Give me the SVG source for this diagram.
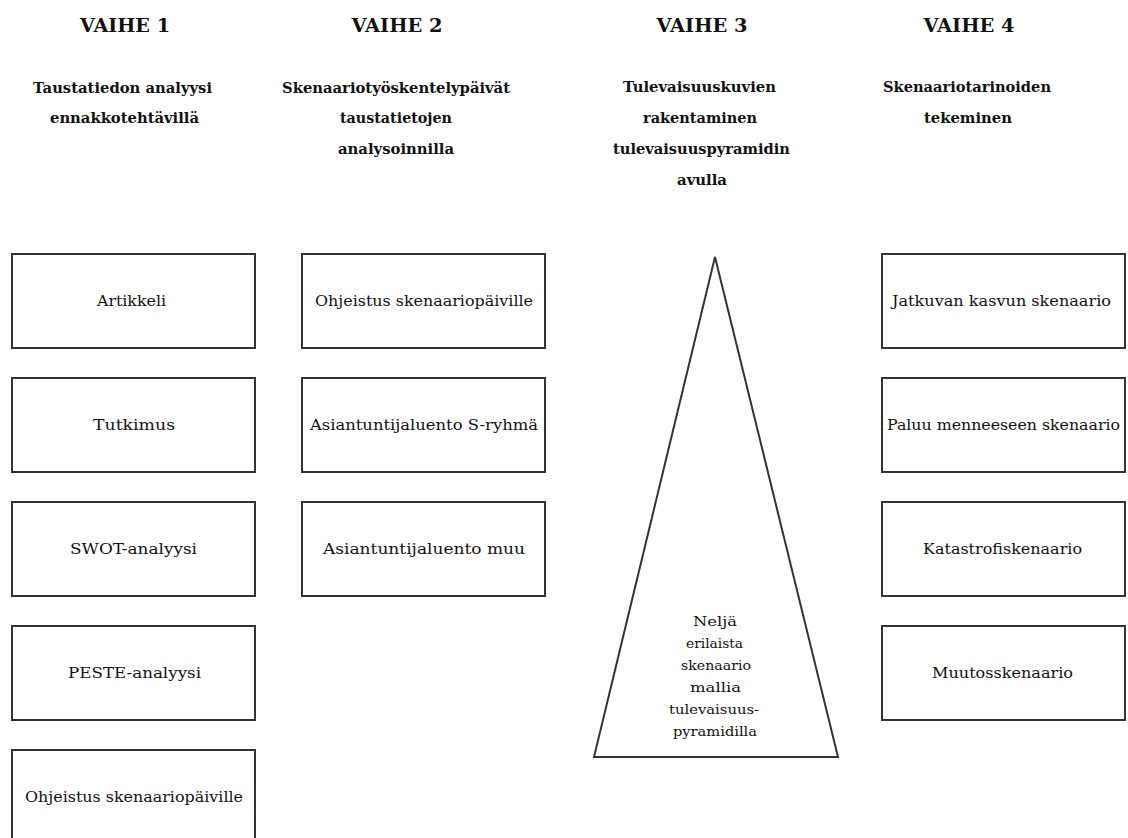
<svg xmlns="http://www.w3.org/2000/svg" width="1128" height="838" viewBox="0 0 1128 838">
<style>
.bg{fill:#fff}
.box{fill:#fff;stroke:#333;stroke-width:2}
.h{font-family:'DejaVu Serif','Liberation Serif',serif;font-weight:bold;font-size:19px;fill:#111;text-anchor:middle}
.s{font-family:'DejaVu Serif','Liberation Serif',serif;font-weight:bold;font-size:14px;fill:#111;text-anchor:middle}
.t{font-family:'DejaVu Serif','Liberation Serif',serif;font-size:14px;fill:#111;text-anchor:middle}
.p{font-family:'DejaVu Serif','Liberation Serif',serif;font-size:13px;fill:#111;text-anchor:middle}
</style>
<rect class="bg" x="0" y="0" width="1128" height="838"/>
<g id="headers">
<text class="h" x="125" y="32" textLength="90" lengthAdjust="spacingAndGlyphs">VAIHE 1</text>
<text class="h" x="397" y="32" textLength="91" lengthAdjust="spacingAndGlyphs">VAIHE 2</text>
<text class="h" x="702" y="32" textLength="91" lengthAdjust="spacingAndGlyphs">VAIHE 3</text>
<text class="h" x="969" y="32" textLength="91" lengthAdjust="spacingAndGlyphs">VAIHE 4</text>
<text class="s" x="122.5" y="93" textLength="179" lengthAdjust="spacingAndGlyphs">Taustatiedon analyysi</text>
<text class="s" x="124.5" y="123" textLength="149" lengthAdjust="spacingAndGlyphs">ennakkotehtävillä</text>
<text class="s" x="396" y="93" textLength="228" lengthAdjust="spacingAndGlyphs">Skenaariotyöskentelypäivät</text>
<text class="s" x="396" y="123" textLength="112" lengthAdjust="spacingAndGlyphs">taustatietojen</text>
<text class="s" x="396" y="154" textLength="116" lengthAdjust="spacingAndGlyphs">analysoinnilla</text>
<text class="s" x="699.5" y="92" textLength="153" lengthAdjust="spacingAndGlyphs">Tulevaisuuskuvien</text>
<text class="s" x="700" y="123" textLength="114" lengthAdjust="spacingAndGlyphs">rakentaminen</text>
<text class="s" x="701.5" y="154" textLength="177" lengthAdjust="spacingAndGlyphs">tulevaisuuspyramidin</text>
<text class="s" x="702" y="185" textLength="50" lengthAdjust="spacingAndGlyphs">avulla</text>
<text class="s" x="967" y="92" textLength="168" lengthAdjust="spacingAndGlyphs">Skenaariotarinoiden</text>
<text class="s" x="968" y="123" textLength="88" lengthAdjust="spacingAndGlyphs">tekeminen</text>
</g>
<g id="connectors"></g>
<g id="n1-artikkeli"><rect class="box" x="12" y="254" width="243" height="94"/><text class="t" x="131.5" y="306" textLength="69" lengthAdjust="spacingAndGlyphs">Artikkeli</text></g>
<g id="n1-tutkimus"><rect class="box" x="12" y="378" width="243" height="94"/><text class="t" x="134" y="430" textLength="82" lengthAdjust="spacingAndGlyphs">Tutkimus</text></g>
<g id="n1-swot"><rect class="box" x="12" y="502" width="243" height="94"/><text class="t" x="133.5" y="554" textLength="127" lengthAdjust="spacingAndGlyphs">SWOT-analyysi</text></g>
<g id="n1-peste"><rect class="box" x="12" y="626" width="243" height="94"/><text class="t" x="134.5" y="678" textLength="133" lengthAdjust="spacingAndGlyphs">PESTE-analyysi</text></g>
<g id="n1-ohjeistus"><rect class="box" x="12" y="750" width="243" height="94"/><text class="t" x="134" y="802" textLength="218" lengthAdjust="spacingAndGlyphs">Ohjeistus skenaariopäiville</text></g>
<g id="n2-ohjeistus"><rect class="box" x="302" y="254" width="243" height="94"/><text class="t" x="424" y="306" textLength="218" lengthAdjust="spacingAndGlyphs">Ohjeistus skenaariopäiville</text></g>
<g id="n2-srymha"><rect class="box" x="302" y="378" width="243" height="94"/><text class="t" x="424" y="430" textLength="228" lengthAdjust="spacingAndGlyphs">Asiantuntijaluento S-ryhmä</text></g>
<g id="n2-muu"><rect class="box" x="302" y="502" width="243" height="94"/><text class="t" x="424" y="554" textLength="202" lengthAdjust="spacingAndGlyphs">Asiantuntijaluento muu</text></g>
<g id="n3-pyramid">
<polygon class="box" points="715,257 838,757 594,757"/>
<text class="p" x="715" y="626" textLength="44" lengthAdjust="spacingAndGlyphs">Neljä</text>
<text class="p" x="714.5" y="648" textLength="57" lengthAdjust="spacingAndGlyphs">erilaista</text>
<text class="p" x="716" y="670" textLength="70" lengthAdjust="spacingAndGlyphs">skenaario</text>
<text class="p" x="715.5" y="692" textLength="51" lengthAdjust="spacingAndGlyphs">mallia</text>
<text class="p" x="714" y="714" textLength="90" lengthAdjust="spacingAndGlyphs">tulevaisuus-</text>
<text class="p" x="715" y="736" textLength="84" lengthAdjust="spacingAndGlyphs">pyramidilla</text>
</g>
<g id="n4-jatkuva"><rect class="box" x="882" y="254" width="243" height="94"/><text class="t" x="1001.5" y="306" textLength="219" lengthAdjust="spacingAndGlyphs">Jatkuvan kasvun skenaario</text></g>
<g id="n4-paluu"><rect class="box" x="882" y="378" width="243" height="94"/><text class="t" x="1003.5" y="430" textLength="233" lengthAdjust="spacingAndGlyphs">Paluu menneeseen skenaario</text></g>
<g id="n4-katastrofi"><rect class="box" x="882" y="502" width="243" height="94"/><text class="t" x="1002.5" y="554" textLength="159" lengthAdjust="spacingAndGlyphs">Katastrofiskenaario</text></g>
<g id="n4-muutos"><rect class="box" x="882" y="626" width="243" height="94"/><text class="t" x="1002.5" y="678" textLength="141" lengthAdjust="spacingAndGlyphs">Muutosskenaario</text></g>
</svg>
